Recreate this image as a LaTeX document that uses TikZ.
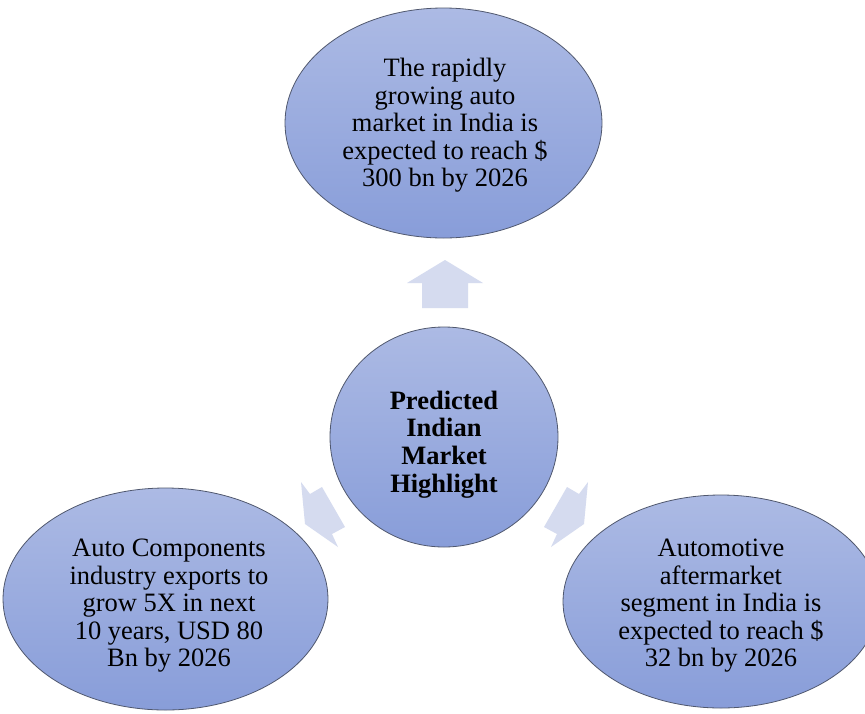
\documentclass[tikz,border=0pt]{standalone}
\usepackage{fontspec}
\setmainfont{Liberation Serif}
\usetikzlibrary{shapes.geometric}
\definecolor{bubtop}{RGB}{172,186,228}
\definecolor{bubbot}{RGB}{136,157,217}
\definecolor{bubline}{RGB}{80,88,110}
\definecolor{arrowfill}{RGB}{213,219,239}
\tikzset{
  bub/.style={ellipse, draw=bubline, line width=0.8pt, top color=bubtop, bottom color=bubbot, inner sep=0pt},
  txt/.style={align=center, text=black, font=\fontsize{26.5}{27.5}\selectfont, inner sep=0pt},
  blockarrow/.style={fill=arrowfill, draw=none}
}
\begin{document}
\begin{tikzpicture}[x=1pt,y=-1pt]
\useasboundingbox (0,0) rectangle (865,713);
\fill[white] (0,0) rectangle (865,713);
% bubbles
\node[bub, minimum width=317pt, minimum height=230pt] (top) at (443.5,123) {};
\node[bub, minimum width=228pt, minimum height=220pt] (ctr) at (444,437) {};
\node[bub, minimum width=325pt, minimum height=222pt] (left) at (165.5,599) {};
\node[bub, minimum width=316pt, minimum height=213pt] (right) at (721,601.5) {};
% texts
\node[txt] (ttop) at (445,125.5) {The rapidly\\growing auto\\market in India is\\expected to reach \$\\300 bn by 2026};
\node[txt, font=\fontsize{26.5}{27.6}\selectfont\bfseries] (tctr) at (444,444.5) {Predicted\\Indian\\Market\\Highlight};
\node[txt] (tleft) at (169,606) {Auto Components\\industry exports to\\grow 5X in next\\10 years, USD 80\\Bn by 2026};
\node[txt] (tright) at (721,606) {Automotive\\aftermarket\\segment in India is\\expected to reach \$\\32 bn by 2026};
% arrows
\fill[blockarrow] (445,260) -- (483,283) -- (468,283) -- (468,308) -- (422,308) -- (422,283) -- (407,283) -- cycle;
\fill[blockarrow] (305,524) -- (301,482) -- (310,494) -- (322,487) -- (345,527) -- (332,534) -- (338,547) -- cycle;
\fill[blockarrow] (584,524) -- (588,482) -- (579,494) -- (567,487) -- (544,527) -- (557,534) -- (551,547) -- cycle;
\end{tikzpicture}
\end{document}
